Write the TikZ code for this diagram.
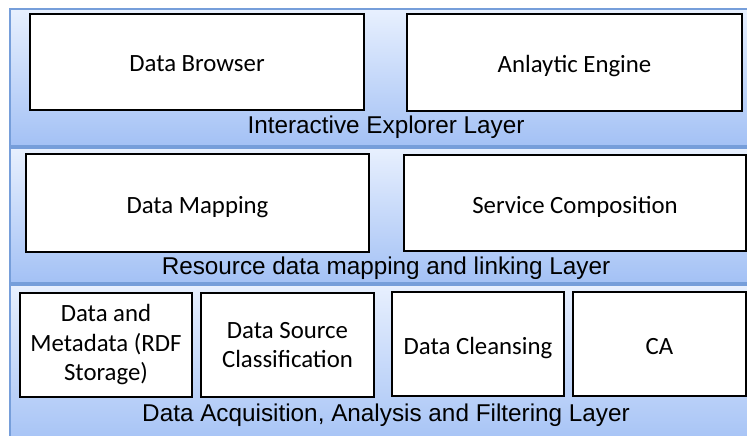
\documentclass[tikz,border=0pt]{standalone}
\usepackage{fontspec}
\setmainfont{Carlito}
\newfontfamily\layerfont{Liberation Sans}
\definecolor{bandtop}{RGB}{232,240,254}
\definecolor{bandbot}{RGB}{163,193,245}
\definecolor{bandline}{RGB}{118,158,218}
\begin{document}
\begin{tikzpicture}[x=1pt,y=-1pt,
  band/.style={draw=bandline,line width=1.2pt,top color=bandtop,bottom color=bandbot},
  box/.style={draw=black,line width=2.5pt,fill=white,align=center,
    font=\fontsize{24.8}{29.5}\selectfont,inner sep=0pt},
  oneline/.style={text height=20pt,text depth=0pt},
  layerlabel/.style={font=\layerfont\fontsize{24.3}{28}\selectfont}]
\useasboundingbox (0,0) rectangle (747,436);
% layers
\draw[band] (10,9) rectangle (763,146);
\draw[band] (10,148) rectangle (763,283);
\draw[band] (10,285) rectangle (763,450);
% interactive explorer layer
\node[box,oneline,minimum width=334pt,minimum height=96pt] (browser) at (197,62) {Data Browser};
\node[box,oneline,minimum width=335pt,minimum height=97pt] (engine) at (574.5,62.5) {Anlaytic Engine};
\node[layerlabel] (explorer) at (386,127.5) {Interactive Explorer Layer};
% mapping and linking layer
\node[box,oneline,minimum width=343pt,minimum height=98pt] (mapping) at (197.5,203) {Data Mapping};
\node[box,oneline,minimum width=342pt,minimum height=96pt] (service) at (575,203) {Service Composition};
\node[layerlabel] (linking) at (386,268.5) {Resource data mapping and linking Layer};
% acquisition layer
\node[box,minimum width=172pt,minimum height=104pt] (storage) at (106,345) {Data and\\Metadata (RDF\\Storage)};
\node[box,minimum width=173pt,minimum height=104pt] (source) at (287.5,345) {Data Source\\Classification};
\node[box,oneline,minimum width=172pt,minimum height=104pt] (cleansing) at (478,344) {Data Cleansing};
\node[box,oneline,minimum width=173pt,minimum height=104pt] (ca) at (659.5,344) {CA};
\node[layerlabel] (acquisition) at (386,415.5) {Data Acquisition, Analysis and Filtering Layer};
\end{tikzpicture}
\end{document}
